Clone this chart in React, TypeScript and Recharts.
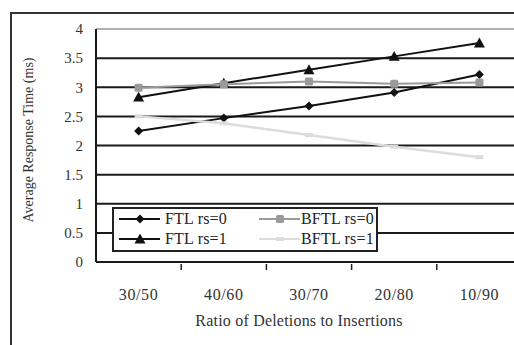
import React from 'react';
import { LineChart, Line, XAxis, YAxis, CartesianGrid, Legend, ReferenceLine } from 'recharts';

const categories = ['30/50', '40/60', '30/70', '20/80', '10/90'];
const ftlRs0 = [2.25, 2.47, 2.68, 2.91, 3.22];
const ftlRs1 = [2.83, 3.07, 3.3, 3.53, 3.76];
const bftlRs0 = [2.99, 3.05, 3.1, 3.06, 3.08];
const bftlRs1 = [2.5, 2.38, 2.18, 1.98, 1.8];
const yTicks = [0, 0.5, 1, 1.5, 2, 2.5, 3, 3.5, 4];

const seriesNames = ['FTL rs=0', 'FTL rs=1', 'BFTL rs=0', 'BFTL rs=1'];

const data = categories.map((c, i) => ({
  cat: c,
  f0: ftlRs0[i],
  f1: ftlRs1[i],
  b0: bftlRs0[i],
  b1: bftlRs1[i],
}));

const FONT = '"Liberation Serif", "Times New Roman", serif';

const Diamond = (props: any) => {
  const { cx, cy, fill } = props;
  if (cx == null || cy == null) return null;
  const r = 4.5;
  return <polygon points={`${cx},${cy - r} ${cx + r},${cy} ${cx},${cy + r} ${cx - r},${cy}`} fill={fill} />;
};
const Triangle = (props: any) => {
  const { cx, cy, fill } = props;
  if (cx == null || cy == null) return null;
  const r = 5.5;
  return <polygon points={`${cx},${cy - r} ${cx + r},${cy + r * 0.8} ${cx - r},${cy + r * 0.8}`} fill={fill} />;
};
const Square = (props: any) => {
  const { cx, cy, fill } = props;
  if (cx == null || cy == null) return null;
  const r = 4;
  return <rect x={cx - r} y={cy - r} width={2 * r} height={2 * r} rx={1.5} fill={fill} />;
};
const Blob = (props: any) => {
  const { cx, cy, fill } = props;
  if (cx == null || cy == null) return null;
  return <rect x={cx - 4} y={cy - 2} width={8} height={4} fill={fill} />;
};

const series = [
  { key: 'f0', name: seriesNames[0], color: '#111', Marker: Diamond },
  { key: 'f1', name: seriesNames[1], color: '#111', Marker: Triangle },
  { key: 'b0', name: seriesNames[2], color: '#9a9a9a', Marker: Square },
  { key: 'b1', name: seriesNames[3], color: '#dcdcdc', Marker: Blob },
];

const XTick = (props: any) => {
  const { x, y, payload } = props;
  const off = payload && payload.offset ? payload.offset : 0;
  return (
    <g>
      <line x1={x + off} x2={x + off} y1={y} y2={y - 6} stroke="#222" strokeWidth={1.5} />
      <text
        x={x}
        y={y + 30}
        textAnchor="middle"
        fontFamily={FONT}
        fontSize={16}
        letterSpacing={0.6}
        fill="#333"
      >
        {payload.value}
      </text>
    </g>
  );
};

const renderLegend = () => {
  const order = [0, 2, 1, 3];
  return (
    <div
      style={{
        border: '2px solid #222',
        background: '#fff',
        width: 262,
        height: 41,
        boxSizing: 'content-box',
        display: 'grid',
        gridTemplateColumns: '140px 122px',
        gridTemplateRows: '20px 20px',
        fontFamily: FONT,
        fontSize: 16,
        letterSpacing: 0.2,
        color: '#222',
      }}
    >
      {order.map((i, k) => {
        const s = series[i];
        const M = s.Marker;
        return (
          <div key={s.key} style={{ display: 'flex', alignItems: 'center', height: 20 }}>
            <svg width={k % 2 === 0 ? 46 : 42} height={14} style={{ marginLeft: 5, flex: 'none' }}>
              <line x1={0} x2={41} y1={7} y2={7} stroke={s.color} strokeWidth={2} />
              <M cx={21} cy={7} fill={s.color} />
            </svg>
            <span style={{ whiteSpace: 'nowrap' }}>{s.name}</span>
          </div>
        );
      })}
    </div>
  );
};

export default function App() {
  return (
    <div style={{ position: 'absolute', left: 0, top: 0, width: 514, height: 345, overflow: 'hidden', background: '#fff' }}>
      <div
        style={{
          position: 'absolute',
          left: 10,
          top: 12,
          width: 600,
          height: 400,
          border: '2px solid #333',
        }}
      />
      <div style={{ position: 'absolute', left: 0, top: 0 }}>
        <LineChart width={560} height={345} data={data} margin={{ top: 29, right: 38, left: 0, bottom: 0 }}>
          <CartesianGrid vertical={false} stroke="#1a1a1a" strokeWidth={2} />
          <ReferenceLine y={4} stroke="#b0b0b0" strokeWidth={2} />
          <XAxis
            dataKey="cat"
            scale="band"
            height={83}
            axisLine={{ stroke: '#1a1a1a', strokeWidth: 2 }}
            tickLine={false}
            tick={<XTick />}
            interval={0}
            label={{
              value: 'Ratio of Deletions to Insertions',
              position: 'insideBottom',
              offset: 19,
              dx: -10,
              style: { fontFamily: FONT, fontSize: 16, letterSpacing: 0.2, fill: '#333' },
            }}
          />
          <YAxis
            width={96}
            domain={[0, 4]}
            ticks={yTicks}
            interval={0}
            tickLine={false}
            tickSize={0}
            tickMargin={13}
            axisLine={{ stroke: '#1a1a1a', strokeWidth: 2 }}
            tick={{ fontFamily: FONT, fontSize: 15, fill: '#333' }}
            label={{
              content: () => (
                <text
                  x={28}
                  y={140}
                  transform="rotate(-90 28 140)"
                  textAnchor="middle"
                  dominantBaseline="central"
                  fontFamily={FONT}
                  fontSize={14}
                  fill="#333"
                >
                  Average Response Time (ms)
                </text>
              ),
            }}
          />
          <Legend
            verticalAlign="middle"
            align="center"
            layout="horizontal"
            content={renderLegend}
            wrapperStyle={{ left: 112, top: 207, width: 266, height: 45 }}
          />
          {series.map((s) => {
            const M = s.Marker;
            return (
              <Line
                key={s.key}
                type="linear"
                dataKey={s.key}
                name={s.name}
                stroke={s.color}
                strokeWidth={s.key === 'b1' ? 2.5 : 2}
                dot={(p: any) => <M key={`${s.key}-${p.index}`} cx={p.cx} cy={p.cy} fill={s.color} />}
                activeDot={false}
                isAnimationActive={false}
              />
            );
          })}
        </LineChart>
      </div>
    </div>
  );
}
